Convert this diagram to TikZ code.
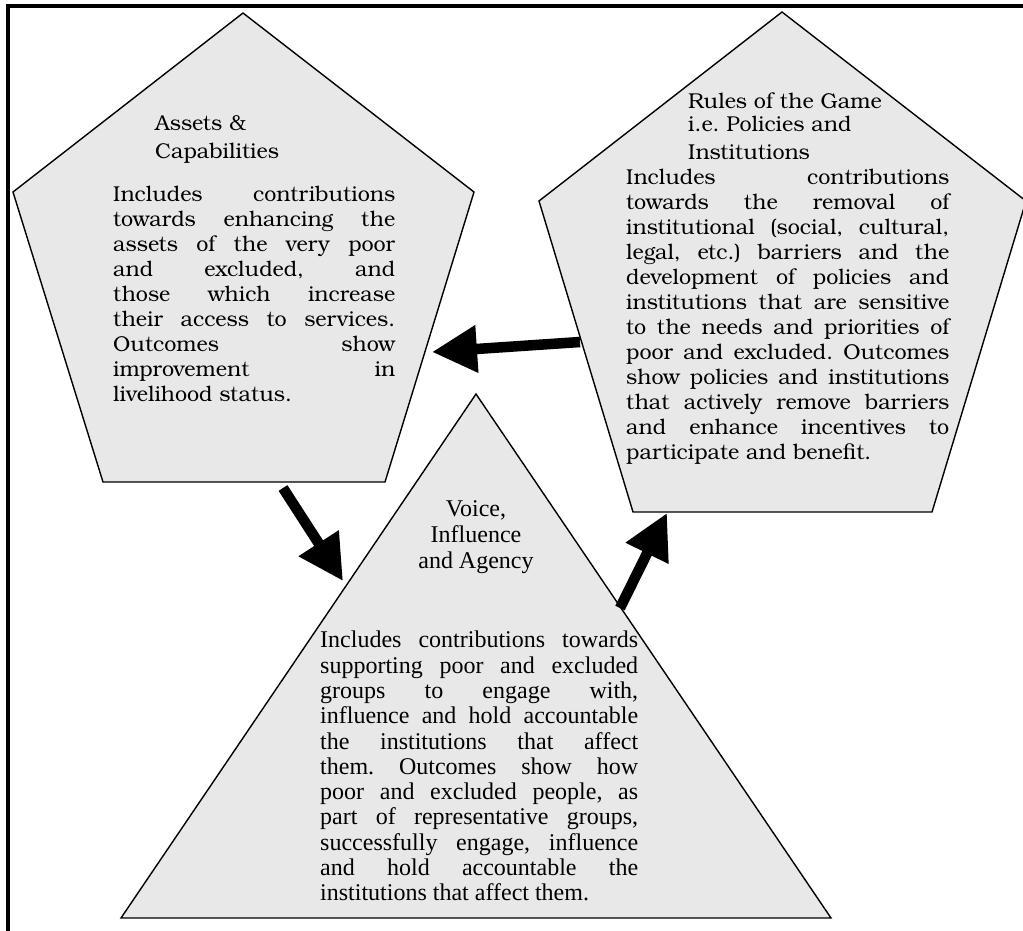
\documentclass[tikz,border=0pt]{standalone}
\usepackage{fontspec}
\setmainfont{TeX Gyre Bonum}
\newfontfamily\trifont{Liberation Serif}
\usetikzlibrary{arrows.meta}
\definecolor{shapefill}{RGB}{232,232,232}
\newcommand\jA[1]{\makebox[282pt][s]{#1}}
\newcommand\jB[1]{\makebox[323pt][s]{#1}}
\newcommand\jC[1]{\makebox[318pt][s]{#1}}
\frenchspacing
\begin{document}
\begin{tikzpicture}[x=1pt,y=-1pt,
  shapeline/.style={draw=black, line width=1.4pt, fill=shapefill, line join=miter},
  framestroke/.style={line width=3.5pt, draw=black, line join=miter},
  flowarrow/.style={line width=10.5pt, -{Triangle[length=45pt,width=45pt]}},
  penfont/.style={inner sep=0pt, font=\frenchspacing\fontsize{21.5}{25}\selectfont},
  trifontst/.style={inner sep=0pt, font=\frenchspacing\trifont\fontsize{24}{25.3}\selectfont},
  ]
\useasboundingbox (0,0) rectangle (1023,930);
\clip (0,0) rectangle (1023,930);
% frame
\coordinate (frameBL) at (8,940);
\coordinate (frameTL) at (8,6);
\coordinate (frameTR) at (1035,6);
\draw[framestroke] (frameBL) -- (frameTL) -- (frameTR);
% left pentagon
\coordinate (LT) at (243,13);
\coordinate (LR) at (474,192);
\coordinate (LBR) at (385,482);
\coordinate (LBL) at (103,482);
\coordinate (LL) at (13,192);
\draw[shapeline] (LT) -- (LR) -- (LBR) -- (LBL) -- (LL) -- cycle;
% right pentagon
\coordinate (RT) at (782,12);
\coordinate (RR) at (1026,201);
\coordinate (RBR) at (932,512);
\coordinate (RBL) at (633,512);
\coordinate (RL) at (539,201);
\draw[shapeline] (RT) -- (RR) -- (RBR) -- (RBL) -- (RL) -- cycle;
% triangle
\coordinate (TA) at (476,394);
\coordinate (TBR) at (831,918);
\coordinate (TBL) at (121,918);
\draw[shapeline] (TA) -- (TBR) -- (TBL) -- cycle;
% texts left
\node[penfont, align=left, anchor=north west] (assetsHead) at (155,115)
  {Assets \&\\[3pt]Capabilities};
\node[penfont, align=left, anchor=north west] (assetsBody) at (113,186)
  {\jA{Includes contributions}\\
   \jA{towards enhancing the}\\
   \jA{assets of the very poor}\\
   \jA{and excluded, and}\\
   \jA{those which increase}\\
   \jA{their access to services.}\\
   \jA{Outcomes show}\\
   \jA{improvement in}\\
   livelihood status.};
% texts right
\node[penfont, align=left, anchor=north west] (rulesHead) at (688,93)
  {Rules of the Game\\[-2pt]i.e. Policies and\\[3pt]Institutions};
\node[penfont, align=left, anchor=north west] (rulesBody) at (626,169)
  {\jB{Includes contributions}\\
   \jB{towards the removal of}\\
   \jB{institutional (social, cultural,}\\
   \jB{legal, etc.) barriers and the}\\
   \jB{development of policies and}\\
   \jB{institutions that are sensitive}\\
   \jB{to the needs and priorities of}\\
   \jB{poor and excluded. Outcomes}\\
   \jB{show policies and institutions}\\
   \jB{that actively remove barriers}\\
   \jB{and enhance incentives to}\\
   participate and benefit.};
% texts triangle
\node[trifontst, align=center, anchor=north] (voiceHead) at (476,500)
  {Voice,\\[1pt]Influence\\[1pt]and Agency};
\node[trifontst, align=left, anchor=north west] (voiceBody) at (320,631)
  {\jC{Includes contributions towards}\\
   \jC{supporting poor and excluded}\\
   \jC{groups to engage with,}\\
   \jC{influence and hold accountable}\\
   \jC{the institutions that affect}\\
   \jC{them. Outcomes show how}\\
   \jC{poor and excluded people, as}\\
   \jC{part of representative groups,}\\
   \jC{successfully engage, influence}\\
   \jC{and hold accountable the}\\
   institutions that affect them.};
% arrows
\coordinate (a1s) at (283,488);
\coordinate (a1e) at (343,581);
\coordinate (a2s) at (580,342);
\coordinate (a2e) at (432,352);
\coordinate (a3s) at (620,608);
\coordinate (a3e) at (667,513);
\draw[flowarrow] (a1s) -- (a1e);
\draw[flowarrow] (a2s) -- (a2e);
\draw[flowarrow] (a3s) -- (a3e);
\end{tikzpicture}
\end{document}
